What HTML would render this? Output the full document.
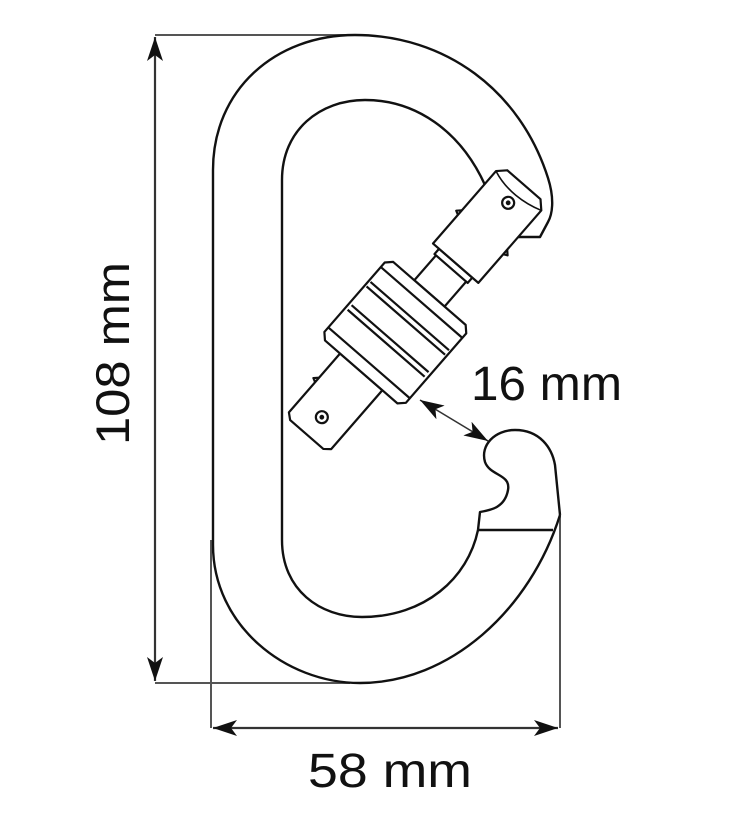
<!DOCTYPE html>
<html><head><meta charset="utf-8"><style>html,body{margin:0;padding:0;background:#fff}svg{display:block}</style></head>
<body>
<svg width="730" height="820" viewBox="0 0 730 820" xmlns="http://www.w3.org/2000/svg">
<defs>
<marker id="ah" viewBox="0 0 24 16" refX="24" refY="8" markerWidth="24" markerHeight="16" markerUnits="userSpaceOnUse" orient="auto-start-reverse">
<path d="M0,0 L24,8 L0,16 L6,8 Z" fill="#111"/>
</marker>
</defs>
<g fill="none" stroke="#555" stroke-width="2">
<line x1="155" y1="35" x2="365" y2="35"/>
<line x1="155" y1="683" x2="350" y2="683"/>
<line x1="211" y1="540" x2="211" y2="728"/>
<line x1="560" y1="515" x2="560" y2="728"/>
</g>
<g stroke="#333" stroke-width="2.2">
<line x1="155" y1="37" x2="155" y2="681" marker-start="url(#ah)" marker-end="url(#ah)"/>
<line x1="213" y1="728" x2="558" y2="728" marker-start="url(#ah)" marker-end="url(#ah)"/>
<line x1="420" y1="400" x2="488" y2="441" stroke-width="1.6" marker-start="url(#ah)" marker-end="url(#ah)"/>
</g>
<g fill="none" stroke="#111" stroke-width="2.4" stroke-linejoin="round">
<path d="M213,545 L213,170 C213,90 275,35 355,35 C445,35 520,90 548,178 C555,200 552,215 548,222 L540,237 L515,237"/>
<path d="M282,540 L282,180 C282,130 320,100 365,100 C415,100 460,130 485,185"/>
<path d="M213,545 C213,625 285,683 360,683 C450,683 530,610 560,515"/>
<path d="M282,540 C282,590 320,617 362,617 C425,617 468,578 478,530"/>
<path d="M478,530 L553,530"/>
<path d="M478,530 L480,512 C492,510 505,507 508,490 C511,474 490,476 485,462 C480,445 495,430 515,430 C540,430 552,448 555,465 L560,515"/>
</g>
<g transform="translate(415,310) rotate(-49)" fill="#fff" stroke="#111" stroke-width="2.2" stroke-linejoin="round">
<path d="M-165,-22 L-160,-28 L-82,-28 L-82,28 L-160,28 L-165,22 Z"/>
<path d="M-120,-28 L-118,-32 L-114,-28" fill="none"/>
<path d="M22,-20 L70,-20 L70,20 L22,20 Z"/>
<path d="M55,-22 L62,-22 L62,22 L55,22 Z"/>
<path d="M62,-30 L158,-30 L166,-22 L166,22 L158,30 L62,30 Z"/>
<path d="M100,-30 L102,-34 L106,-30 M100,30 L102,34 L106,30" fill="none"/>
<path d="M-82,-48 L-76,-54 L16,-54 L22,-48 L22,48 L16,54 L-76,54 L-82,48 Z"/>
<line x1="-70" y1="-54" x2="-70" y2="54"/>
<line x1="-44" y1="-51" x2="-44" y2="51"/>
<line x1="-38" y1="-51" x2="-38" y2="51"/>
<line x1="-14" y1="-52" x2="-14" y2="52"/>
<line x1="-8" y1="-52" x2="-8" y2="52"/>
<line x1="10" y1="-54" x2="10" y2="54"/>
<path d="M158,-30 C150,-10 152,12 158,30" fill="none" stroke-width="1.6"/>
<circle cx="-142" cy="0" r="6"/>
<circle cx="-142" cy="0" r="1.3" fill="#111"/>
<circle cx="142" cy="0" r="6"/>
<circle cx="142" cy="0" r="1.3" fill="#111"/>
</g>
<g font-family="Liberation Sans, Arial, sans-serif" fill="#111">
<text x="471" y="400" font-size="48" textLength="151" lengthAdjust="spacingAndGlyphs">16 mm</text>
<text x="308" y="787" font-size="48" textLength="164" lengthAdjust="spacingAndGlyphs">58 mm</text>
<text transform="translate(129,445) rotate(-90)" font-size="47" textLength="183" lengthAdjust="spacingAndGlyphs">108 mm</text>
</g>
</svg>
</body></html>
